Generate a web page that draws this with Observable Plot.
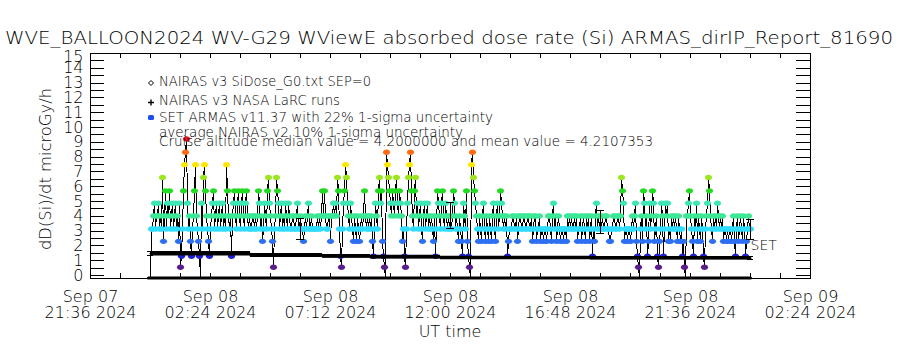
<!DOCTYPE html>
<html><head><meta charset="utf-8">
<script src="https://cdn.jsdelivr.net/npm/d3@7"></script>
<script src="https://cdn.jsdelivr.net/npm/@observablehq/plot@0.6"></script>
<style>
html,body{margin:0;padding:0;background:#fff;}
#chart svg{display:block;}
#chart svg text{font-weight:200;}
</style></head><body><div id="chart"></div>
<script>
// ---------------- text ----------------
const titleText = "WVE_BALLOON2024 WV-G29 WViewE absorbed dose rate (Si) ARMAS_dirIP_Report_81690";
const yAxisTitle = "dD(Si)/dt microGy/h";
const xAxisTitle = "UT time";
const legendLabels = [
  "NAIRAS v3 SiDose_G0.txt SEP=0",
  "NAIRAS v3 NASA LaRC runs",
  "SET ARMAS v11.37 with 22% 1-sigma uncertainty"
];
const noteLabels = [
  "average NAIRAS v2 10% 1-sigma uncertainty",
  "Cruise altitude median value = 4.2000000 and mean value = 4.2107353"
];
const seriesTag = "SET";

// ---------------- axes ----------------
const xTickTimes = ["2024-09-07T21:36Z","2024-09-08T02:24Z","2024-09-08T07:12Z","2024-09-08T12:00Z","2024-09-08T16:48Z","2024-09-08T21:36Z","2024-09-09T02:24Z"];
const xTickLabels = ["Sep 07\n21:36 2024","Sep 08\n02:24 2024","Sep 08\n07:12 2024","Sep 08\n12:00 2024","Sep 08\n16:48 2024","Sep 08\n21:36 2024","Sep 09\n02:24 2024"];
const yTickValues = [0,1,2,3,4,5,6,7,8,9,10,11,12,13,14,15];

// ---------------- ARMAS (SET) dose rate ----------------
// one sample every 2.4 min from 2024-09-08 00:00 UT; each character is a quantized level code
const armasStart = "2024-09-08T00:00Z";
const armasStepMin = 2.4;
const armasLevelCodes = ["z","0","1","2","3","4","5","6","7","8","9","a"];
const armasLevelValues = [-0.17, 0.56, 1.30, 2.31, 3.14, 4.03, 4.89, 5.72, 6.63, 7.49, 8.33, 9.23];
const armasLevelColors = ["#000000","#5a1e8c","#2020d0","#2d6ff2","#30dcff","#3ce896","#3ee6b4","#22dc22","#9be61e","#ffe600","#ff6a14","#e6141e"];
const armasCodes = [
  "z334534453","4372463546","3453453425","013689a534","2134684321","z537864321",
  "3456345345","3453438643","4145643564","3564356434","3344343465","3423543675",
  "4320347653","4534354354","3344334533","4332343453","3433333434","3464643344",
  "2445454763","1035687543","5432432432","3434643434","3421354367","56210z9876",
  "5465467546","5423103578","9643674534","5324534534","3432413654","3564354343",
  "4346534324","3215436210","z897654324","3245324324","3245324534","6543434123",
  "3344334234","4334433443","3423442334","2332332344","3245342343","2332332434",
  "3433434233","4234324342","3413245343","4343344332","2334433443","4765233233",
  "234345210z","3426534125","3465234102","3541354523","2434343243","23120z4456",
  "4321435243","2431034576","4324343543","4342332323","3234213423","4324312343","3"
].join("");
const armasErrTimes = ["2024-09-08T06:00Z","2024-09-08T12:00Z","2024-09-08T18:00Z","2024-09-09T00:00Z"];
const armasErrValues = [3.14, 4.04, 3.62, 3.12];
const armasErrFrac = 0.22;
const setLabelValue = 2.03;

// ---------------- NAIRAS v3 NASA LaRC ----------------
const nairasTimes = ["2024-09-08T00:00Z","2024-09-08T04:00Z","2024-09-08T06:53Z","2024-09-08T08:48Z","2024-09-08T11:36Z","2024-09-08T17:36Z","2024-09-09T00:00Z"];
const nairasValues = [1.47, 1.35, 1.29, 1.24, 1.19, 1.17, 1.17];
const nairasErrFrac = 0.10;

// ---------------- NAIRAS v3 SiDose_G0 ----------------
const sidoseTimes = ["2024-09-07T23:55Z","2024-09-09T00:00Z"];
const sidoseValues = [-0.17, -0.17];

// ---------------- build ----------------
const t0 = Date.parse(armasStart);
const armas = Array.from(armasCodes, (c, i) => {
  const k = armasLevelCodes.indexOf(c);
  return {t: new Date(t0 + i * armasStepMin * 60000), v: armasLevelValues[k], color: armasLevelColors[k], k};
});
const armasErr = armasErrTimes.map((s, i) => ({t: new Date(s), v: armasErrValues[i]}));
const armasCaps = armasErr.flatMap(d => [{t: d.t, y: d.v * (1 - armasErrFrac)}, {t: d.t, y: d.v * (1 + armasErrFrac)}]);
const nairas = nairasTimes.map((s, i) => ({t: new Date(s), v: nairasValues[i]}));
const nairasEnds = [nairas[0], nairas[nairas.length - 1]];
const nairasCaps = nairasEnds.flatMap(d => [{t: d.t, y: d.v * (1 - nairasErrFrac)}, {t: d.t, y: d.v * (1 + nairasErrFrac)}]);
const sidose = sidoseTimes.map((s, i) => ({t: new Date(s), v: sidoseValues[i]}));
const xTicks = xTickTimes.map((s, i) => ({t: new Date(s), label: xTickLabels[i]}));
const xStart = Date.parse(xTickTimes[0]);
const xMinor = d3.range(25).map(k => new Date(xStart + k * 72 * 60000));
const yMinor = d3.range(0, 15.01, 0.5);
const minutes = m => m * 60000;

const ellipseSymbol = {
  draw(ctx) {
    const rx = 3.6, ry = 2.7, k = 0.5523;
    ctx.moveTo(rx, 0);
    ctx.bezierCurveTo(rx, k * ry, k * rx, ry, 0, ry);
    ctx.bezierCurveTo(-k * rx, ry, -rx, k * ry, -rx, 0);
    ctx.bezierCurveTo(-rx, -k * ry, -k * rx, -ry, 0, -ry);
    ctx.bezierCurveTo(k * rx, -ry, rx, -k * ry, rx, 0);
    ctx.closePath();
  }
};

const W = 900, H = 350, ML = 90, MR = 90, MT = 53, MB = 72;
const frameW = W - ML - MR, frameH = H - MT - MB;

const svg = Plot.plot({
  width: W, height: H,
  marginLeft: ML, marginRight: MR, marginTop: MT, marginBottom: MB,
  style: {fontFamily: '"DejaVu Sans", sans-serif', fontSize: "16px", background: "#fff", color: "#000"},
  x: {type: "utc", domain: [new Date(xTickTimes[0]), new Date(xTickTimes[6])], axis: null},
  y: {domain: [-0.2, 15], axis: null},
  color: {type: "identity"},
  marks: [
    // ARMAS connecting line and quantized colored points
    Plot.line(armas, {x: "t", y: "v", stroke: "#000", strokeWidth: 1, shapeRendering: "crispEdges"}),
    Plot.dot(armas.filter(d => d.k > 0), {x: "t", y: "v", fill: "color", symbol: ellipseSymbol, stroke: "none"}),
    // NAIRAS LaRC with 10% band
    Plot.areaY(nairas, {x: "t", y1: d => d.v * (1 - nairasErrFrac), y2: d => d.v * (1 + nairasErrFrac), curve: "step-after", fill: "#000"}),
    Plot.line(nairas, {x: "t", y: "v", curve: "step-after", stroke: "#000", strokeWidth: 2}),
    Plot.ruleX(nairasEnds, {x: "t", y1: d => d.v * (1 - nairasErrFrac), y2: d => d.v * (1 + nairasErrFrac), stroke: "#000", shapeRendering: "crispEdges"}),
    Plot.ruleY(nairasCaps, {y: "y", x1: d => new Date(+d.t - minutes(8)), x2: d => new Date(+d.t + minutes(8)), stroke: "#000", shapeRendering: "crispEdges"}),
    // NAIRAS SiDose_G0
    Plot.line(sidose, {x: "t", y: "v", stroke: "#000", strokeWidth: 3}),
    // ARMAS 22% error bars
    Plot.ruleX(armasErr, {x: "t", y1: d => d.v * (1 - armasErrFrac), y2: d => d.v * (1 + armasErrFrac), stroke: "#000", shapeRendering: "crispEdges"}),
    Plot.ruleY(armasCaps, {y: "y", x1: d => new Date(+d.t - minutes(10)), x2: d => new Date(+d.t + minutes(10)), stroke: "#000", shapeRendering: "crispEdges"}),
    Plot.text([armas[armas.length - 1]], {x: "t", y: () => setLabelValue, text: () => seriesTag, textAnchor: "start", dx: 0, fontSize: 14}),
    // frame and ticks
    Plot.frame({stroke: "#000", shapeRendering: "crispEdges"}),
    Plot.ruleY(yMinor, {y: d => d, insetRight: frameW - 14, stroke: "#000", shapeRendering: "crispEdges"}),
    Plot.ruleY(yMinor, {y: d => d, insetLeft: frameW - 14, stroke: "#000", shapeRendering: "crispEdges"}),
    Plot.ruleX(xMinor, {x: d => d, insetBottom: frameH - 5, stroke: "#000", shapeRendering: "crispEdges"}),
    Plot.ruleX(xMinor, {x: d => d, insetTop: frameH - 5, stroke: "#000", shapeRendering: "crispEdges"}),
    // y tick labels (the top label sits slightly lower, as in the reference)
    Plot.axisY(yTickValues.slice(0, 15), {anchor: "left", tickSize: 0, tickPadding: 7, label: null, fontSize: 16}),
    Plot.axisY(yTickValues.slice(15), {anchor: "left", tickSize: 0, tickPadding: 7, label: null, fontSize: 16, dy: 3}),
    // x tick labels
    Plot.text(xTicks, {x: "t", text: "label", frameAnchor: "bottom", lineAnchor: "top", dy: 12, lineHeight: 1.0, fontSize: 16})
  ]
});

const s = d3.select(svg);
const addText = (x, y, txt, size, len, anchor = "start", transform = null) => {
  const t = s.append("text").attr("x", x).attr("y", y).attr("font-size", size)
    .attr("text-anchor", anchor).attr("fill", "#000").text(txt);
  if (len) t.attr("textLength", len).attr("lengthAdjust", "spacingAndGlyphs");
  if (transform) t.attr("transform", transform);
  return t;
};
addText(5, 44, titleText, 18, 888);
addText(51, 169, yAxisTitle, 16, 162, "middle", "rotate(-90,51,169)");
addText(450, 337, xAxisTitle, 16, null, "middle");
const legendBase = [86, 105, 122];
const legendLen = [212, 181, 334];
legendLabels.forEach((l, i) => addText(159, legendBase[i], l, 14, legendLen[i]));
addText(159, 137, noteLabels[0], 14, 304);
addText(159, 146, noteLabels[1], 14, 494);
// legend symbols
s.append("path").attr("d", "M151,80.5 L153.5,83 L151,85.5 L148.5,83 Z").attr("fill", "none").attr("stroke", "#000");
s.append("path").attr("d", "M148,102.5 H154 M151,99.5 V105.5").attr("stroke", "#000").attr("stroke-width", 1.4);
s.append("rect").attr("x", 148).attr("y", 115).attr("width", 6).attr("height", 5).attr("rx", 1.5).attr("fill", "#1d4ef0");

document.getElementById("chart").appendChild(svg);
</script></body></html>
